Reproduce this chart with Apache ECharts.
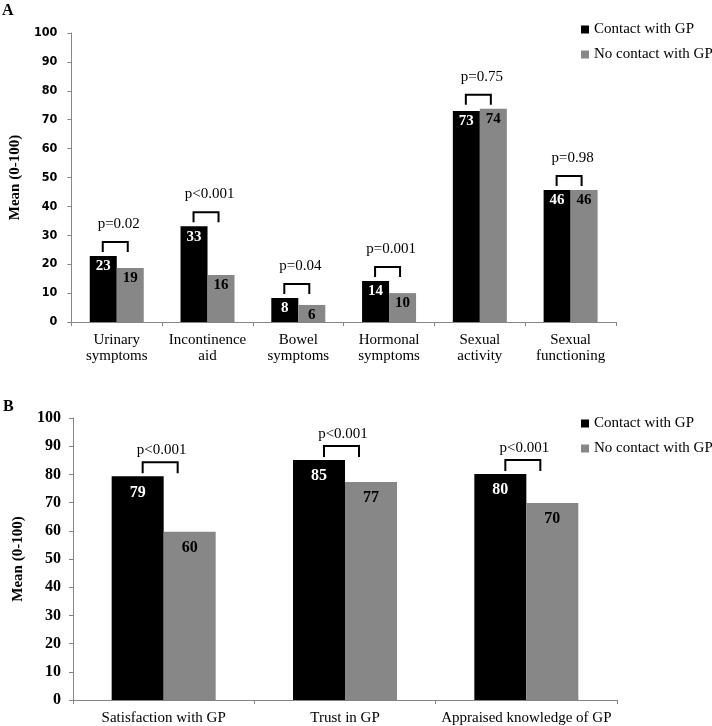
<!DOCTYPE html>
<html>
<head>
<meta charset="utf-8">
<script src="https://cdn.jsdelivr.net/npm/echarts@6/dist/echarts.min.js"></script>
<style>html,body{margin:0;padding:0;background:#fff}#c{width:712px;height:726px}</style>
</head>
<body>
<div id="c"></div>
<script>
// ---- Data ----
const seriesNames = ['Contact with GP', 'No contact with GP'];

const catsA = ['Urinary symptoms', 'Incontinence aid', 'Bowel symptoms', 'Hormonal symptoms', 'Sexual activity', 'Sexual functioning'];
const contactA = [22.8, 33.1, 8.3, 14.2, 73.0, 45.7];
const noContactA = [18.7, 16.3, 5.9, 10.0, 73.8, 45.7];
const pValuesA = ['p=0.02', 'p<0.001', 'p=0.04', 'p=0.001', 'p=0.75', 'p=0.98'];

const catsB = ['Satisfaction with GP', 'Trust in GP', 'Appraised knowledge of GP'];
const contactB = [79.3, 85.1, 80.1];
const noContactB = [59.7, 77.3, 69.9];
const pValuesB = ['p<0.001', 'p<0.001', 'p<0.001'];

const yTicks = [0, 10, 20, 30, 40, 50, 60, 70, 80, 90, 100];

// ---- Styles ----
const BLACK = '#000000';
const GREY = '#878787';
const AXIS = '#858585';
const SERIF = '"Liberation Serif", "Times New Roman", serif';

const chart = echarts.init(document.getElementById('c'), null, {renderer: 'canvas'});

function bracketSeries(xi, a, b, pv, cfg) {
  return {
    type: 'custom',
    xAxisIndex: xi, yAxisIndex: xi,
    silent: true, z: 10,
    data: a.map((v, i) => [i, Math.max(v, b[i])]),
    renderItem: function (params, api) {
      const p = api.coord([api.value(0), api.value(1)]);
      const yTop = p[1] - cfg.rise;
      const yLeg = yTop + cfg.leg;
      const x0 = p[0] + cfg.l, x1 = p[0] + cfg.r;
      return {
        type: 'group',
        children: [
          {type: 'polyline', shape: {points: [[x0, yLeg], [x0, yTop], [x1, yTop], [x1, yLeg]]},
           style: {stroke: '#000', lineWidth: 2, fill: null}},
          {type: 'text', style: {text: pv[params.dataIndex], x: p[0] + cfg.tx, y: yTop - cfg.ty,
            align: 'center', verticalAlign: 'middle', font: '15px ' + SERIF, fill: '#000'}}
        ]
      };
    }
  };
}

function barSeries(name, data, xi, color, labelColor, bw, fs, dist) {
  return {
    name: name, type: 'bar', xAxisIndex: xi, yAxisIndex: xi,
    data: data, barWidth: bw, barGap: '0%',
    itemStyle: {color: color},
    label: {show: true, position: 'insideTop', distance: dist, color: labelColor,
      fontFamily: SERIF, fontWeight: 'bold', fontSize: fs,
      formatter: p => Math.round(p.value)}
  };
}

const yMax = yTicks[yTicks.length - 1];

const option = {
  animation: false,
  backgroundColor: '#fff',
  grid: [
    {left: 68, right: 96, top: 33, height: 289},
    {left: 73, right: 95, top: 418, height: 282}
  ],
  legend: [
    {data: seriesNames, orient: 'vertical', left: 576, top: 17, itemWidth: 8, itemHeight: 8, itemGap: 10,
     icon: 'rect', textStyle: {fontFamily: SERIF, fontSize: 15, color: '#000'}},
    {data: seriesNames.map(n => n), orient: 'vertical', left: 576, top: 411, itemWidth: 8, itemHeight: 8, itemGap: 10,
     icon: 'rect', textStyle: {fontFamily: SERIF, fontSize: 15, color: '#000'}}
  ],
  xAxis: [
    {type: 'category', gridIndex: 0, data: catsA,
     axisLine: {lineStyle: {color: AXIS, width: 1}},
     axisTick: {show: true, length: 4, lineStyle: {color: AXIS}},
     axisLabel: {color: '#000', fontFamily: SERIF, fontSize: 15, lineHeight: 16, margin: 10, interval: 0,
       formatter: s => s.replace(' ', '\n')}},
    {type: 'category', gridIndex: 1, data: catsB,
     axisLine: {lineStyle: {color: AXIS, width: 1}},
     axisTick: {show: true, length: 4, lineStyle: {color: AXIS}},
     axisLabel: {color: '#000', fontFamily: SERIF, fontSize: 15, margin: 11, interval: 0}}
  ],
  yAxis: [
    {type: 'value', gridIndex: 0, min: yTicks[0], max: yMax, interval: 10,
     name: 'Mean (0-100)', nameLocation: 'middle', nameGap: 45,
     nameTextStyle: {fontFamily: SERIF, fontWeight: 'bold', fontSize: 15, color: '#000'},
     axisLine: {show: true, lineStyle: {color: AXIS}},
     axisTick: {show: true, length: 4, lineStyle: {color: AXIS}},
     splitLine: {show: false},
     axisLabel: {color: '#000', fontFamily: '"DejaVu Sans Condensed", "DejaVu Sans", sans-serif', fontWeight: 'bold', fontSize: 12.5, margin: 14}},
    {type: 'value', gridIndex: 1, min: yTicks[0], max: yMax, interval: 10,
     name: 'Mean (0-100)', nameLocation: 'middle', nameGap: 41,
     nameTextStyle: {fontFamily: SERIF, fontWeight: 'bold', fontSize: 15, color: '#000'},
     axisLine: {show: true, lineStyle: {color: AXIS}},
     axisTick: {show: true, length: 4, lineStyle: {color: AXIS}},
     splitLine: {show: false},
     axisLabel: {color: '#000', fontFamily: SERIF, fontWeight: 'bold', fontSize: 16, margin: 12}}
  ],
  graphic: [
    {type: 'text', left: 2, top: 3, style: {text: 'A', font: 'bold 16px ' + SERIF, fill: '#000'}},
    {type: 'text', left: 3, top: 399, style: {text: 'B', font: 'bold 16px ' + SERIF, fill: '#000'}}
  ],
  series: [
    barSeries(seriesNames[0], contactA, 0, BLACK, '#fff', 27, 15, 3),
    barSeries(seriesNames[1], noContactA, 0, GREY, '#000', 27, 15, 3),
    barSeries(seriesNames[0], contactB, 1, BLACK, '#fff', 52, 16, 8),
    barSeries(seriesNames[1], noContactB, 1, GREY, '#000', 52, 16, 8),
    bracketSeries(0, contactA, noContactA, pValuesA, {rise: 14, leg: 10, l: -14, r: 11, tx: 2, ty: 18}),
    bracketSeries(1, contactB, noContactB, pValuesB, {rise: 14, leg: 11, l: -21, r: 14, tx: -2, ty: 12})
  ]
};
chart.setOption(option);
</script>
</body>
</html>
